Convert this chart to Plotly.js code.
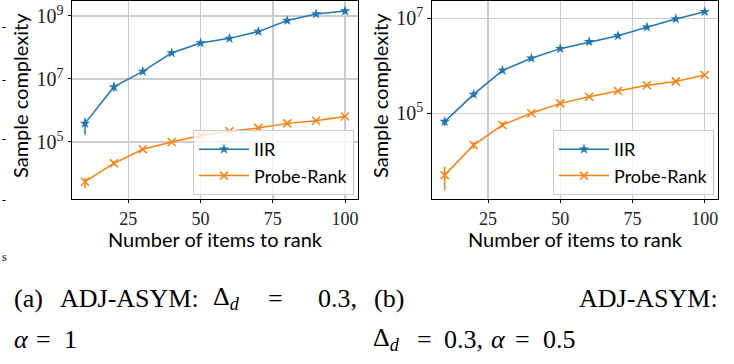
<!DOCTYPE html>
<html>
<head>
<meta charset="utf-8">
<script src="https://cdn.plot.ly/plotly-3.0.1.min.js"></script>
<style>
html,body{margin:0;padding:0;background:#fff;}
#chart{width:734px;height:364px;}
</style>
</head>
<body>
<div id="chart"></div>
<script>
// ---- data ----
const items = [10, 20, 30, 40, 50, 60, 70, 80, 90, 100];
const xTickVals = [25, 50, 75, 100];
const yTickValsA = [1e5, 1e7, 1e9];
const yTickTextA = ['10<sup>5</sup>', '10<sup>7</sup>', '10<sup>9</sup>'];
const yTickValsB = [1e5, 1e7];
const yTickTextB = ['10<sup>5</sup>', '10<sup>7</sup>'];

// (a) alpha = 1
const iirA    = [3.9e5, 5.6e6, 1.74e7, 6.7e7, 1.39e8, 1.95e8, 3.2e8, 7.2e8, 1.16e9, 1.44e9];
const iirAHi  = [5.7e5, 7.6e6, 2.0e7, 7.5e7, 1.5e8, 2.1e8, 3.5e8, 7.8e8, 1.25e9, 1.55e9];
const iirALo  = [1.7e5, 4.0e6, 1.5e7, 6.0e7, 1.28e8, 1.8e8, 2.9e8, 6.6e8, 1.07e9, 1.33e9];
const prA     = [5.5e3, 2.1e4, 5.9e4, 1.0e5, 1.6e5, 2.2e5, 2.8e5, 3.9e5, 4.7e5, 6.4e5];
const prAHi   = [7.2e3, 2.5e4, 6.5e4, 1.08e5, 1.72e5, 2.35e5, 3.0e5, 4.2e5, 5.0e5, 6.9e5];
const prALo   = [3.4e3, 1.75e4, 5.3e4, 0.93e5, 1.48e5, 2.05e5, 2.6e5, 3.6e5, 4.4e5, 5.9e5];

// (b) alpha = 0.5
const iirB    = [6.7e4, 2.5e5, 8.0e5, 1.44e6, 2.3e6, 3.2e6, 4.3e6, 6.5e6, 9.7e6, 1.38e7];
const iirBHi  = [7.8e4, 2.8e5, 8.8e5, 1.52e6, 2.4e6, 3.35e6, 4.5e6, 6.8e6, 1.01e7, 1.44e7];
const iirBLo  = [5.5e4, 2.2e5, 7.2e5, 1.36e6, 2.2e6, 3.05e6, 4.1e6, 6.2e6, 9.3e6, 1.32e7];
const prB     = [5.0e3, 2.15e4, 5.7e4, 1.0e5, 1.62e5, 2.24e5, 2.95e5, 3.9e5, 4.7e5, 6.4e5];
const prBHi   = [7.5e3, 2.5e4, 6.4e4, 1.08e5, 1.72e5, 2.35e5, 3.1e5, 4.1e5, 4.95e5, 6.7e5];
const prBLo   = [2.4e3, 1.8e4, 5.1e4, 0.93e5, 1.52e5, 2.13e5, 2.8e5, 3.7e5, 4.45e5, 6.1e5];

const seriesNames = ['IIR', 'Probe-Rank'];
const xTitle = 'Number of items to rank';
const yTitle = 'Sample complexity';

// ---- styling ----
const BLUE = '#1f77b4', ORANGE = '#ff7f0e';
const SANS = 'Lato, "Liberation Sans", sans-serif';
const SERIF = '"Liberation Serif", "DejaVu Serif", serif';

function errs(y, hi, lo) {
  return {
    type: 'data', symmetric: false,
    array: y.map((v, i) => hi[i] - v),
    arrayminus: y.map((v, i) => v - lo[i]),
    thickness: 1.5, width: 0
  };
}
function trace(y, hi, lo, name, color, symbol, xa, ya, leg) {
  const isStar = symbol === 'star';
  return {
    x: items, y: y, name: name, type: 'scatter', mode: 'lines+markers',
    xaxis: xa, yaxis: ya, legend: leg,
    line: {color: color, width: 1.5},
    marker: isStar
      ? {symbol: 'star', size: 8, color: color, line: {width: 0}}
      : {symbol: 'x-thin-open', size: 8, color: color, line: {width: 1.5, color: color}},
    error_y: Object.assign(errs(y, hi, lo), {color: color})
  };
}

const data = [
  trace(iirA, iirAHi, iirALo, seriesNames[0], BLUE, 'star', 'x', 'y', 'legend'),
  trace(prA, prAHi, prALo, seriesNames[1], ORANGE, 'x', 'x', 'y', 'legend'),
  trace(iirB, iirBHi, iirBLo, seriesNames[0], BLUE, 'star', 'x2', 'y2', 'legend2'),
  trace(prB, prBHi, prBLo, seriesNames[1], ORANGE, 'x', 'x2', 'y2', 'legend2')
];

const W = 734, H = 364;
const px = v => v / W, py = v => 1 - v / H;

function xAxis(d0, d1, anchor) {
  return {
    domain: [px(d0), px(d1)], anchor: anchor, range: [5.5, 104.5],
    tickvals: xTickVals, ticks: 'outside', ticklen: 3, tickwidth: 1, tickcolor: '#000',
    showline: true, mirror: true, linecolor: '#000', linewidth: 1,
    showgrid: true, gridcolor: '#cccccc', gridwidth: 1.5, zeroline: false,
    tickfont: {family: SERIF, size: 18, color: '#222'}
  };
}
function yAxis(r, tv, tt, anchor) {
  return {
    domain: [py(199), py(1)], anchor: anchor, type: 'log', range: r,
    tickmode: 'array', tickvals: tv, ticktext: tt,
    ticks: 'outside', ticklen: 3.5, tickwidth: 1, tickcolor: '#000',
    showline: true, mirror: true, linecolor: '#000', linewidth: 1,
    showgrid: true, gridcolor: '#cccccc', gridwidth: 1.5, zeroline: false,
    tickfont: {family: SERIF, size: 20, color: '#222'}
  };
}
function legend(x0) {
  return {
    x: px(x0), y: py(130), xanchor: 'left', yanchor: 'top',
    bgcolor: 'rgba(255,255,255,0.8)', bordercolor: '#cccccc', borderwidth: 1,
    font: {family: SANS, size: 18, color: '#000'}, itemwidth: 50
  };
}

const ann = (text, x, y, opts) => Object.assign({
  text: text, xref: 'paper', yref: 'paper', x: px(x), y: py(y),
  showarrow: false, xanchor: 'center', yanchor: 'middle',
  font: {family: SANS, size: 20, color: '#000'}
}, opts || {});
const cap = (text, x, y, xanchor) => ann(text, x, y, {
  xanchor: xanchor || 'left',
  font: {family: SERIF, size: 26, color: '#000'}
});
const edge = (text, y) => ann(text, 0, y, {
  xanchor: 'left', font: {family: SERIF, size: 12, color: '#000'}
});

const annotations = [
  ann(xTitle, 215, 239),
  ann(xTitle, 575, 239),
  ann(yTitle, 20, 96, {textangle: -90}),
  ann(yTitle, 380, 96, {textangle: -90}),
  // caption (a)
  cap('(a)', 12, 298),
  cap('ADJ-ASYM:', 58, 298),
  cap('Δ<sub><i>d</i></sub>', 211, 298),
  cap('=', 266, 298),
  cap('0.3,', 359, 298, 'right'),
  cap('<i>α</i>', 12, 339),
  cap('=', 34, 339),
  cap('1', 62, 339),
  // caption (b)
  cap('(b)', 372, 298),
  cap('ADJ-ASYM:', 720, 298, 'right'),
  cap('Δ<sub><i>d</i></sub>', 371, 339),
  cap('=', 415, 339),
  cap('0.3,', 442, 339),
  cap('<i>α</i>', 489, 339),
  cap('=', 513, 339),
  cap('0.5', 541, 339),
  // page fragments at the left edge
  edge('-', 27), edge('-', 80), edge('-', 139), edge('-', 200), edge('s', 257)
];

const layout = {
  width: W, height: H,
  margin: {l: 0, r: 0, t: 0, b: 0},
  paper_bgcolor: '#fff', plot_bgcolor: '#fff',
  showlegend: true,
  xaxis: xAxis(72, 358, 'y'),
  yaxis: yAxis([3.19, 9.476], yTickValsA, yTickTextA, 'x'),
  xaxis2: xAxis(431.7, 717.7, 'y2'),
  yaxis2: yAxis([3.196, 7.365], yTickValsB, yTickTextB, 'x2'),
  legend: legend(193),
  legend2: legend(553),
  annotations: annotations
};

Plotly.newPlot('chart', data, layout, {staticPlot: true, displayModeBar: false});
</script>
</body>
</html>
